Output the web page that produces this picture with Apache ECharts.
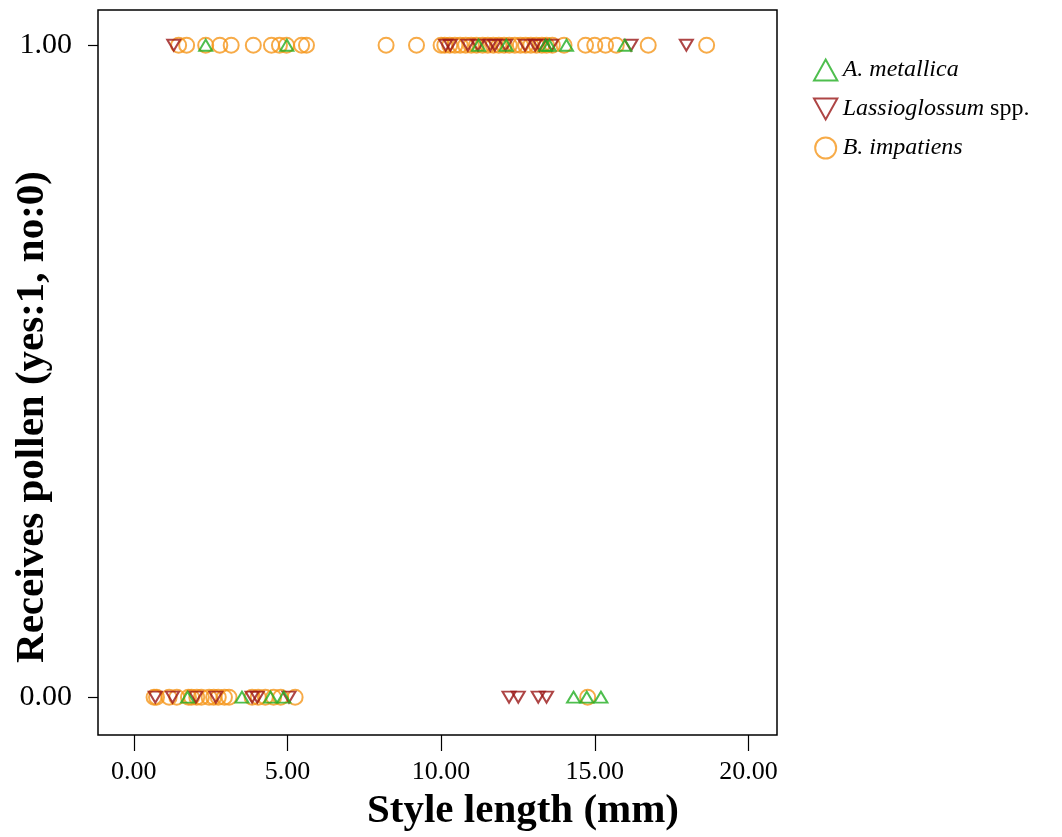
<!DOCTYPE html>
<html>
<head>
<meta charset="utf-8">
<script src="https://cdn.jsdelivr.net/npm/echarts@6/dist/echarts.min.js"></script>
<style>html,body{margin:0;padding:0;background:#fff}#c{width:1062px;height:837px}</style>
</head>
<body>
<div id="c"></div>
<script>
// ---- data (x = style length in mm, y = receives pollen 1/0) ----
const speciesNames = ['A. metallica', 'Lassioglossum spp.', 'B. impatiens'];
const xTicks = [0, 5, 10, 15, 20];
const yTicks = [0, 1];

const metallicaYes = [2.34, 4.98, 11.22, 12.12, 13.40, 13.52, 14.08, 15.98];
const metallicaNo  = [1.75, 3.52, 4.45, 4.88, 14.31, 14.74, 15.20];

const lassioYes = [1.30, 10.15, 10.30, 10.87, 11.20, 11.60, 11.75, 12.10, 12.73, 13.06, 13.20, 13.60, 16.18, 17.98];
const lassioNo  = [0.70, 1.26, 2.02, 2.67, 3.85, 4.02, 5.05, 12.21, 12.51, 13.16, 13.43];

const impatiensYes = [1.46, 1.72, 2.34, 2.80, 3.17, 3.89, 4.48, 4.74, 4.97, 5.46, 5.62, 8.21, 9.20,
  10.00, 10.12, 10.28, 10.45, 10.62, 10.80, 10.98, 11.15, 11.35, 11.52, 11.70, 11.88, 12.05, 12.22,
  12.40, 12.58, 12.75, 12.92, 13.10, 13.28, 13.43, 13.62, 14.00, 14.70, 15.00, 15.35, 15.70, 16.74, 18.64];
const impatiensNo  = [0.66, 0.74, 1.15, 1.40, 1.78, 1.88, 2.05, 2.20, 2.45, 2.60, 2.75, 2.95, 3.10,
  3.85, 4.05, 4.28, 4.55, 4.78, 5.25, 14.77];

function pts(yes, no) {
  return yes.map(x => [x, 1]).concat(no.map(x => [x, 0]));
}

const serif = 'Liberation Serif, Times New Roman, serif';
const chart = echarts.init(document.getElementById('c'), null, {renderer: 'canvas'});

const hollow = 'rgba(0,0,0,0)';
const cOrange = '#f5961a', cRed = '#9a1616', cGreen = '#22ae22';
chart.setOption({
  animation: false,
  backgroundColor: '#fff',
  grid: {left: 98, top: 10, width: 679, height: 725, show: true, borderColor: '#000', borderWidth: 1.5, backgroundColor: 'transparent'},
  xAxis: {
    type: 'value', min: -1.164, max: 20.93,
    splitLine: {show: false},
    axisLine: {show: false, onZero: false},
    axisTick: {show: true, inside: false, length: 16, lineStyle: {color: '#000', width: 1.2}, customValues: xTicks},
    axisLabel: {customValues: xTicks, formatter: v => v.toFixed(2), fontFamily: serif, fontSize: 26, color: '#000', margin: 24}
  },
  yAxis: {
    type: 'value', min: -0.058, max: 1.054,
    splitLine: {show: false},
    axisLine: {show: false, onZero: false},
    axisTick: {show: true, inside: false, length: 10, lineStyle: {color: '#000', width: 1.2}, customValues: yTicks},
    axisLabel: {customValues: yTicks, formatter: v => v.toFixed(2), fontFamily: serif, fontSize: 30, color: '#000', margin: 26}
  },
  legend: {
    orient: 'vertical', left: 808, top: 53,
    data: [
      {name: speciesNames[0], icon: 'path://M5,0 L10,9 L0,9 Z'},
      {name: speciesNames[1], icon: 'path://M0,0 L10,0 L5,9 Z'},
      {name: speciesNames[2], icon: 'circle'}
    ],
    itemWidth: 24, itemHeight: 21, itemGap: 15,
    formatter: function (name) {
      if (name === 'Lassioglossum spp.') return '{i|Lassioglossum} {n|spp.}';
      return '{i|' + name + '}';
    },
    textStyle: {
      fontFamily: serif, fontSize: 24, color: '#000',
      rich: {
        i: {fontFamily: serif, fontSize: 24, fontStyle: 'italic', color: '#000'},
        n: {fontFamily: serif, fontSize: 24, fontStyle: 'normal', color: '#000'}
      }
    }
  },
  graphic: [
    {type: 'text', x: 523, y: 811,
     style: {text: 'Style length (mm)', font: 'bold 41px ' + serif, fill: '#000', textAlign: 'center', textVerticalAlign: 'middle'}},
    {type: 'text', x: 32, y: 417, rotation: Math.PI / 2,
     style: {text: 'Receives pollen (yes:1, no:0)', font: 'bold 41px ' + serif, fill: '#000', textAlign: 'center', textVerticalAlign: 'middle'}}
  ],
  series: [
    {name: 'B. impatiens', type: 'scatter', data: pts(impatiensYes, impatiensNo), symbol: 'circle', symbolSize: 15,
     itemStyle: {color: hollow, borderColor: cOrange, borderWidth: 2}},
    {name: 'Lassioglossum spp.', type: 'scatter', data: pts(lassioYes, lassioNo), symbol: 'triangle', symbolRotate: 180, symbolSize: [13, 11],
     itemStyle: {color: hollow, borderColor: cRed, borderWidth: 2}},
    {name: 'A. metallica', type: 'scatter', data: pts(metallicaYes, metallicaNo), symbol: 'triangle', symbolSize: [13, 11],
     itemStyle: {color: hollow, borderColor: cGreen, borderWidth: 2}}
  ]
});
</script>
</body>
</html>
